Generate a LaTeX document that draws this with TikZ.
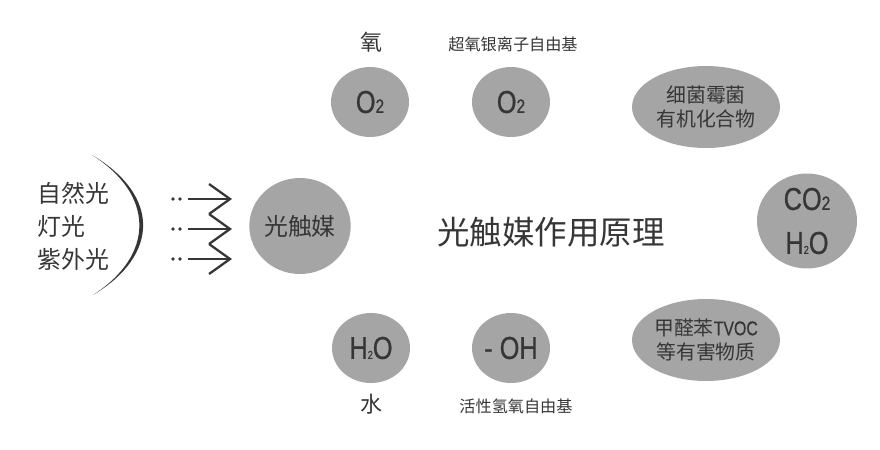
\documentclass[tikz,border=0pt]{standalone}
\usepackage{fontspec}
\setmainfont{Noto Sans CJK SC}
\newfontfamily\condfont[FakeStretch=0.8, FakeBold=0.6]{Liberation Sans}
\usepackage{tikz}
\usetikzlibrary{arrows.meta,shapes.geometric}

\definecolor{inkgray}{HTML}{363636}
\definecolor{blobgray}{HTML}{A5A5A5}

% subscript two, normal and tiny
\newcommand{\subtwo}{{\fontsize{11pt}{11pt}\selectfont 2}}
\newcommand{\tinytwo}{{\fontsize{6.5pt}{6.5pt}\selectfont 2}}

\begin{document}
\begin{tikzpicture}[
    x=0.02cm, y=-0.02cm,
    >=Stealth,
    blob/.style={ellipse, fill=blobgray, inner sep=0pt, text=inkgray, align=center},
    smallblob/.style={blob, minimum width=1.56cm, minimum height=1.4cm,
                      font=\condfont\fontsize{18pt}{20pt}\selectfont},
    bigblob/.style={blob, minimum width=2.96cm, minimum height=1.64cm,
                    font=\fontsize{11.3pt}{14pt}\selectfont},
    roundblob/.style={blob, minimum width=2cm, minimum height=1.92cm},
    lightarrow/.style={-{Straight Barb[length=0.42cm, width=0.6cm]},
                       line width=1.3pt, draw=inkgray},
    label/.style={text=inkgray, inner sep=0pt},
    note/.style={label, font=\fontsize{9.2pt}{11pt}\selectfont},
]
\useasboundingbox (0,0) rectangle (880,450);

% =============================================
% LEFT: light sources
% =============================================
\node[label, anchor=west, font=\fontsize{13.6pt}{16pt}\selectfont] at (37,193) (natural) {自然光};
\node[label, anchor=west, font=\fontsize{13.6pt}{16pt}\selectfont] at (37,226) (lamp) {灯光};
\node[label, anchor=west, font=\fontsize{13.6pt}{16pt}\selectfont] at (37,259) (uv) {紫外光};

% crescent bracket
\fill[inkgray] (92,155) .. controls (160,195) and (160,255) .. (93,295)
    .. controls (155,255) and (155,195) .. (92,155) -- cycle;

% incoming light arrows
\foreach \i/\y in {1/199, 2/229, 3/259} {
    \fill[inkgray] (173,\y) circle (1.1pt) (180,\y) circle (1.1pt);
    \coordinate (s\i) at (188,\y);
    \coordinate (t\i) at (232,\y);
    \draw[lightarrow] (s\i) -- (t\i);
}

% =============================================
% CENTER: catalyst and title
% =============================================
\node[roundblob, font=\fontsize{13.6pt}{16pt}\selectfont] at (300,226) (catalyst) {光触媒};

\node[label, font=\fontsize{18.5pt}{22pt}\selectfont] at (551,232) (title) {光触媒作用原理};

% =============================================
% TOP ROW: oxygen
% =============================================
\node[label, font=\fontsize{12.5pt}{15pt}\selectfont] at (371,42) (oxylabel) {氧};
\node[smallblob] at (370,102) (oxy) {O\subtwo};

\node[note] at (513,44) (superlabel) {超氧银离子自由基};
\node[smallblob] at (511,102) (superoxy) {O\subtwo};

\node[bigblob] at (706,107) (bacteria) {细菌霉菌\\有机化合物};

% =============================================
% RIGHT: products
% =============================================
\node[roundblob, minimum width=2cm, minimum height=1.9cm,
      font=\condfont\fontsize{18pt}{25pt}\selectfont] at (807,221) (products)
    {CO\subtwo\\H\tinytwo O};

% =============================================
% BOTTOM ROW: water
% =============================================
\node[smallblob] at (371,348) (water) {H\tinytwo O};
\node[label, font=\fontsize{12.5pt}{15pt}\selectfont] at (371,404) (waterlabel) {水};

\node[smallblob] at (511,348) (hydroxyl) {-\ OH};
\node[note] at (516,406) (hydroxlabel) {活性氢氧自由基};

\node[bigblob] at (706,340) (voc) {甲醛苯{\condfont TVOC}\\等有害物质};

\end{tikzpicture}
\end{document}
